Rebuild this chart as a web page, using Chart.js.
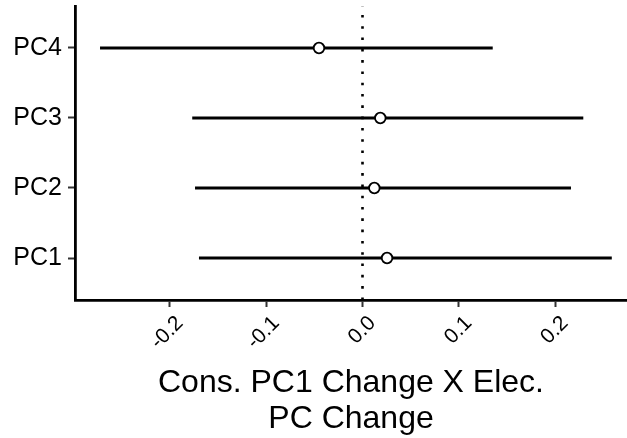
<!DOCTYPE html>
<html>
<head>
<meta charset="utf-8">
<script src="https://cdn.jsdelivr.net/npm/chart.js@4"></script>
<style>
  html, body { margin: 0; padding: 0; background: #fff; }
  #chart { display: block; }
</style>
</head>
<body>
<canvas id="chart" width="627" height="438"></canvas>
<script>
// Data
const categories = ['PC1', 'PC2', 'PC3', 'PC4'];
const estimates = [0.0255, 0.0123, 0.0185, -0.0452];
const lowerBounds = [-0.1699, -0.1740, -0.1769, -0.2727];
const upperBounds = [0.2590, 0.2166, 0.2294, 0.1353];
const xTicks = [-0.2, -0.1, 0.0, 0.1, 0.2];
const xTitle = ['Cons. PC1 Change X Elec.', 'PC Change'];

const FONT = "'Liberation Sans', Arial, sans-serif";

document.addEventListener("DOMContentLoaded", () => {
  const datasets = [];

  // Points (drawn on top)
  datasets.push({
    type: 'scatter',
    data: categories.map((c, i) => ({ x: estimates[i], y: i + 1 })),
    pointStyle: 'circle',
    pointRadius: 5.3,
    pointBorderWidth: 1.8,
    pointBorderColor: '#000',
    pointBackgroundColor: '#fff',
    order: 0
  });

  // Interval lines, one per category
  categories.forEach((c, i) => {
    datasets.push({
      type: 'line',
      data: [{ x: lowerBounds[i], y: i + 1 }, { x: upperBounds[i], y: i + 1 }],
      borderColor: '#000',
      borderWidth: 2.8,
      pointRadius: 0,
      fill: false,
      order: 1
    });
  });

  // Dotted reference line at zero
  datasets.push({
    type: 'line',
    data: [{ x: 0, y: 0.4 }, { x: 0, y: 4.6 }],
    borderColor: '#000',
    borderWidth: 2.6,
    borderDash: [2.6, 8.7],
    pointRadius: 0,
    fill: false,
    order: 2
  });

  new Chart(document.getElementById('chart').getContext('2d'), {
    type: 'scatter',
    data: { datasets: datasets },
    options: {
      responsive: false,
      animation: false,
      layout: { autoPadding: false, padding: { top: 6, right: 0, bottom: 0, left: 0 } },
      plugins: {
        legend: { display: false },
        tooltip: { enabled: false }
      },
      scales: {
        x: {
          type: 'linear',
          min: -0.2987,
          max: 0.2748,
          afterBuildTicks: (scale) => {
            scale.ticks = xTicks.map(v => ({ value: v }));
          },
          afterFit: (scale) => {
            scale.height = 138;
            scale.paddingLeft = 0;
            scale.paddingRight = 0;
          },
          grid: {
            drawOnChartArea: false,
            drawTicks: true,
            tickLength: 7,
            tickWidth: 2,
            tickColor: '#333'
          },
          border: { display: true, color: '#000', width: 2.8 },
          ticks: {
            autoSkip: false,
            maxRotation: 45,
            minRotation: 45,
            padding: 4,
            labelOffset: 10,
            color: '#000',
            font: { family: FONT, size: 21 },
            callback: (v) => v.toFixed(1)
          },
          title: {
            display: true,
            text: xTitle,
            color: '#000',
            font: { family: FONT, size: 32, lineHeight: 1.15 },
            padding: { top: 0, bottom: 0 }
          }
        },
        y: {
          type: 'linear',
          min: 0.4,
          max: 4.6,
          afterBuildTicks: (scale) => {
            scale.ticks = categories.map((c, i) => ({ value: i + 1 }));
          },
          afterFit: (scale) => {
            scale.width = 75;
            scale.paddingTop = 0;
            scale.paddingBottom = 0;
          },
          grid: {
            drawOnChartArea: false,
            drawTicks: true,
            tickLength: 7,
            tickWidth: 2,
            tickColor: '#333'
          },
          border: { display: true, color: '#000', width: 2.8 },
          ticks: {
            padding: 6,
            color: '#000',
            font: { family: FONT, size: 25 },
            callback: (v) => categories[v - 1] || ''
          }
        }
      }
    }
  });
});
</script>
</body>
</html>
